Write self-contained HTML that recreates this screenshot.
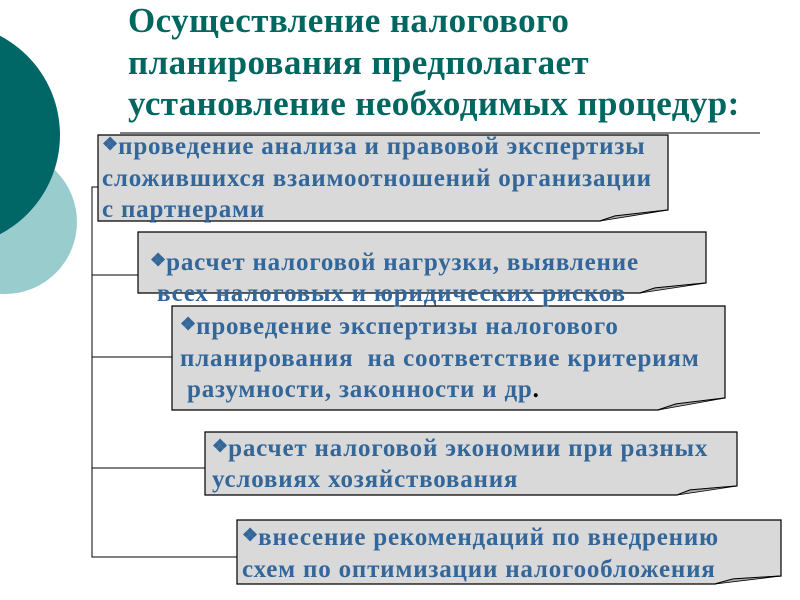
<!DOCTYPE html>
<html><head><meta charset="utf-8"><style>
body{margin:0;width:800px;height:600px;overflow:hidden;background:#fff;position:relative}
svg{position:absolute;left:0;top:0}
.t{position:absolute;left:128px;top:0px;font:bold 35px/41.5px "Liberation Serif","Noto Serif CJK SC",serif;letter-spacing:0.4px;color:#006660;margin:0;white-space:nowrap}
.b{position:absolute;font:bold 25px/32px "Liberation Serif",serif;letter-spacing:0.8px;color:#336699;white-space:nowrap}
.d{font-size:18px;vertical-align:4px;letter-spacing:0}
</style></head><body>
<svg width="800" height="600">
<circle cx="5" cy="222" r="72" fill="#99cccc"/>
<circle cx="-52" cy="135" r="112" fill="#006666"/>
<line x1="120" y1="133" x2="760" y2="133" stroke="#000" stroke-width="1"/>
<g stroke="#000" fill="none" stroke-width="1">
<polyline points="98,187 92,187 92,557 237,557"/>
<line x1="92" y1="275" x2="138" y2="275"/>
<line x1="92" y1="357" x2="172" y2="357"/>
<line x1="92" y1="468" x2="205" y2="468"/>
</g>
<g stroke="#000" stroke-width="1.2" fill="#d9d9d9">
<path d="M98,135 H668 V210 L615,216 L600,221 H98 Z"/>
<path d="M138,232 H706 V283 L655,288 L640,293 H138 Z"/>
<path d="M172,306 H725 V398 L676,404 L658,410 H172 Z"/>
<path d="M205,432 H737 V486 L690,490 L677,495 H205 Z"/>
<path d="M237,520 H781 V576 L733,579 L715,584 H237 Z"/>
</g>
<g fill="#aaa" stroke="#000" stroke-width="0.8">
<path d="M668,210 L615,216 L600,221 Z"/>
<path d="M706,283 L655,288 L640,293 Z"/>
<path d="M725,398 L676,404 L658,410 Z"/>
<path d="M737,486 L690,490 L677,495 Z"/>
<path d="M781,576 L733,579 L715,584 Z"/>
</g>
</svg>
<div class="t">Осуществление налогового<br>планирования предполагает<br>установление необходимых процедур:</div>
<div class="b" style="left:102px;top:129px;line-height:31.5px">
<span class="d">❖</span>проведение анализа и правовой экспертизы<br>сложившихся взаимоотношений организации<br>с партнерами</div>
<div class="b" style="left:150px;top:245px;line-height:31px"><span class="d">❖</span>расчет налоговой нагрузки, выявление<br>&nbsp;всех налоговых и юридических рисков</div>
<div class="b" style="left:180px;top:309px;line-height:31.5px"><span class="d">❖</span>проведение экспертизы налогового<br>планирования &nbsp;на соответствие критериям<br>&nbsp;разумности, законности и др<span style="color:#000">.</span></div>
<div class="b" style="left:212px;top:431px;line-height:31px"><span class="d">❖</span>расчет налоговой экономии при разных<br>условиях хозяйствования</div>
<div class="b" style="left:242px;top:519px;line-height:32px"><span class="d">❖</span>внесение рекомендаций по внедрению<br>схем по оптимизации налогообложения</div>
</body></html>
